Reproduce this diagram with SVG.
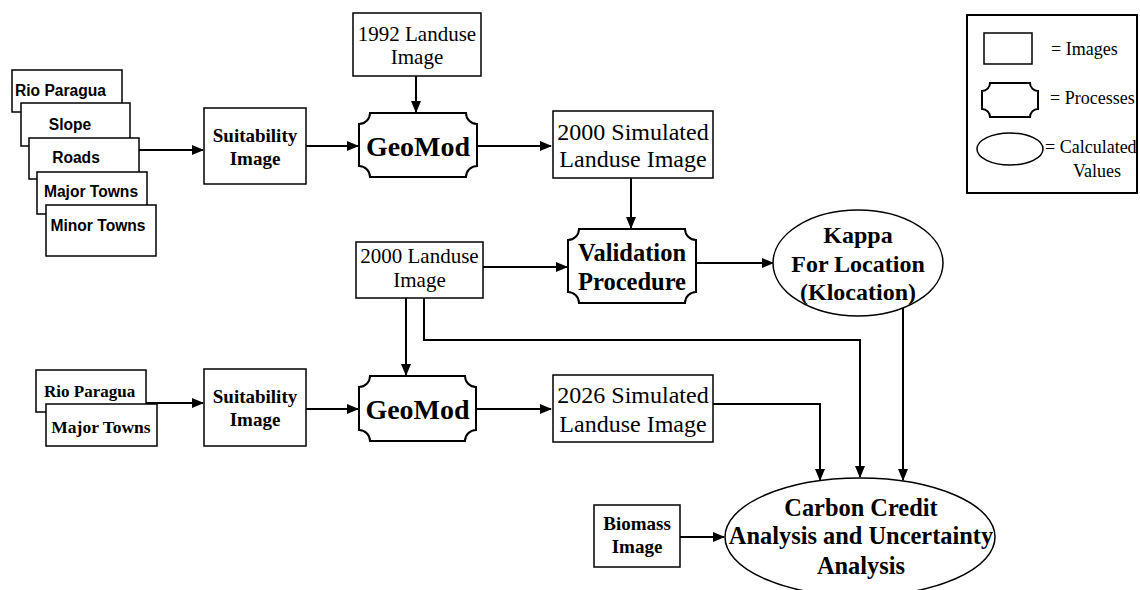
<svg xmlns="http://www.w3.org/2000/svg" width="1140" height="590" viewBox="0 0 1140 590">
<style>
.box{fill:#fff;stroke:#000;stroke-width:1.5}
.proc{fill:#fff;stroke:#000;stroke-width:2}
.ell{fill:#fff;stroke:#000;stroke-width:1.5}
.con{fill:none;stroke:#000;stroke-width:2}
.sans{font-family:"Liberation Sans",Arial,sans-serif;font-weight:bold;font-size:15.6px}
.tb{font-family:"Liberation Serif","Times New Roman",serif;font-weight:bold}
.tr{font-family:"Liberation Serif","Times New Roman",serif}
text{fill:#000}
</style>
<defs>
<marker id="ah" markerUnits="userSpaceOnUse" markerWidth="12" markerHeight="10" refX="11" refY="5" orient="auto">
<path d="M0,0 L12,5 L0,10 Z" fill="#000"/>
</marker>
</defs>
<rect width="1140" height="590" fill="#fff"/>

<g id="connectors" class="con">
<path d="M139,150 H203" marker-end="url(#ah)"/>
<path d="M306,146 H358" marker-end="url(#ah)"/>
<path d="M416,76 V112" marker-end="url(#ah)"/>
<path d="M477,146 H551" marker-end="url(#ah)"/>
<path d="M631,178 V228" marker-end="url(#ah)"/>
<path d="M483,267 H567" marker-end="url(#ah)"/>
<path d="M696,263 H773" marker-end="url(#ah)"/>
<path d="M406,298 V375" marker-end="url(#ah)"/>
<path d="M424,298 V340 H860 V477" marker-end="url(#ah)"/>
<path d="M903,308 V480" marker-end="url(#ah)"/>
<path d="M146,403 H203" marker-end="url(#ah)"/>
<path d="M306,409 H358" marker-end="url(#ah)"/>
<path d="M476,409 H551" marker-end="url(#ah)"/>
<path d="M713,404 H820 V480" marker-end="url(#ah)"/>
<path d="M680,537 H724" marker-end="url(#ah)"/>
</g>

<g id="stack-top">
<g id="rio-paragua-1"><rect class="box" x="12" y="70" width="110" height="42"/><text class="sans" x="15" y="96">Rio Paragua</text></g>
<g id="slope"><rect class="box" x="21" y="103" width="109" height="43"/><text class="sans" x="70" y="130" text-anchor="middle">Slope</text></g>
<g id="roads"><rect class="box" x="29" y="138" width="110" height="41"/><text class="sans" x="76" y="163" text-anchor="middle">Roads</text></g>
<g id="major-towns-1"><rect class="box" x="37" y="172" width="110" height="42"/><text class="sans" x="91" y="197" text-anchor="middle">Major Towns</text></g>
<g id="minor-towns"><rect class="box" x="46" y="205" width="110" height="51"/><text class="sans" x="98" y="231" text-anchor="middle">Minor Towns</text></g>
</g>

<g id="suitability-1"><rect class="box" x="204" y="108" width="102" height="76"/>
<text class="tb" font-size="19" x="255" y="142" text-anchor="middle">Suitability</text>
<text class="tb" font-size="19" x="255" y="165" text-anchor="middle">Image</text></g>

<g id="landuse-1992"><rect class="box" x="353" y="13" width="128" height="63"/>
<text class="tr" font-size="21" x="417" y="41" text-anchor="middle">1992 Landuse</text>
<text class="tr" font-size="21" x="417" y="64" text-anchor="middle">Image</text></g>

<g id="geomod-1"><path class="proc" d="M370,113 H466 A11,11 0 0 0 477,124 V166 A11,11 0 0 0 466,177 H370 A11,11 0 0 0 359,166 V124 A11,11 0 0 0 370,113 Z"/>
<text class="tb" font-size="28" x="418" y="156" text-anchor="middle">GeoMod</text></g>

<g id="sim-2000"><rect class="box" x="553" y="111" width="160" height="67"/>
<text class="tr" font-size="24" x="633" y="140" text-anchor="middle">2000 Simulated</text>
<text class="tr" font-size="24" x="633" y="167" text-anchor="middle">Landuse Image</text></g>

<g id="landuse-2000"><rect class="box" x="356" y="242" width="127" height="56"/>
<text class="tr" font-size="21" x="419.5" y="263" text-anchor="middle">2000 Landuse</text>
<text class="tr" font-size="21" x="419.5" y="287" text-anchor="middle">Image</text></g>

<g id="validation"><path class="proc" d="M579,229 H685 A11,11 0 0 0 696,240 V292 A11,11 0 0 0 685,303 H579 A11,11 0 0 0 568,292 V240 A11,11 0 0 0 579,229 Z"/>
<text class="tb" font-size="24.5" x="632" y="261" text-anchor="middle">Validation</text>
<text class="tb" font-size="24.5" x="632" y="290" text-anchor="middle">Procedure</text></g>

<g id="kappa"><ellipse class="ell" cx="858" cy="263" rx="85" ry="53"/>
<text class="tb" font-size="24" x="858" y="243" text-anchor="middle">Kappa</text>
<text class="tb" font-size="24" x="858" y="272" text-anchor="middle">For Location</text>
<text class="tb" font-size="24" x="858" y="300" text-anchor="middle">(Klocation)</text></g>

<g id="stack-bottom">
<g id="rio-paragua-2"><rect class="box" x="36" y="370" width="110" height="42"/><text class="tb" font-size="17" x="44" y="397">Rio Paragua</text></g>
<g id="major-towns-2"><rect class="box" x="46" y="404" width="111" height="42"/><text class="tb" font-size="17.5" x="101" y="433" text-anchor="middle">Major Towns</text></g>
</g>

<g id="suitability-2"><rect class="box" x="204" y="369" width="102" height="77"/>
<text class="tb" font-size="19" x="255" y="403" text-anchor="middle">Suitability</text>
<text class="tb" font-size="19" x="255" y="426" text-anchor="middle">Image</text></g>

<g id="geomod-2"><path class="proc" d="M370,376 H465 A11,11 0 0 0 476,387 V430 A11,11 0 0 0 465,441 H370 A11,11 0 0 0 359,430 V387 A11,11 0 0 0 370,376 Z"/>
<text class="tb" font-size="28" x="417.5" y="419" text-anchor="middle">GeoMod</text></g>

<g id="sim-2026"><rect class="box" x="553" y="375" width="160" height="67"/>
<text class="tr" font-size="24" x="633" y="403" text-anchor="middle">2026 Simulated</text>
<text class="tr" font-size="24" x="633" y="432" text-anchor="middle">Landuse Image</text></g>

<g id="biomass"><rect class="box" x="594" y="505" width="86" height="62"/>
<text class="tb" font-size="19" x="637" y="530" text-anchor="middle">Biomass</text>
<text class="tb" font-size="19" x="637" y="553" text-anchor="middle">Image</text></g>

<g id="carbon"><ellipse class="ell" cx="860" cy="537" rx="135" ry="59"/>
<text class="tb" font-size="24.4" x="861" y="516" text-anchor="middle">Carbon Credit</text>
<text class="tb" font-size="24.4" x="861" y="544" text-anchor="middle">Analysis and Uncertainty</text>
<text class="tb" font-size="24.4" x="861" y="574" text-anchor="middle">Analysis</text></g>

<g id="legend">
<rect x="967" y="15" width="170" height="178" fill="#fff" stroke="#000" stroke-width="2"/>
<rect class="box" x="984" y="33" width="48" height="31"/>
<text class="tr" font-size="18" x="1051" y="55">= Images</text>
<path class="proc" d="M990,83 H1030 A8,8 0 0 0 1038,91 V109 A8,8 0 0 0 1030,117 H990 A8,8 0 0 0 982,109 V91 A8,8 0 0 0 990,83 Z"/>
<text class="tr" font-size="18" x="1050" y="104">= Processes</text>
<ellipse class="ell" cx="1010" cy="149" rx="33" ry="16"/>
<text class="tr" font-size="18" x="1045" y="153">= Calculated</text>
<text class="tr" font-size="18" x="1097" y="177" text-anchor="middle">Values</text>
</g>
</svg>
